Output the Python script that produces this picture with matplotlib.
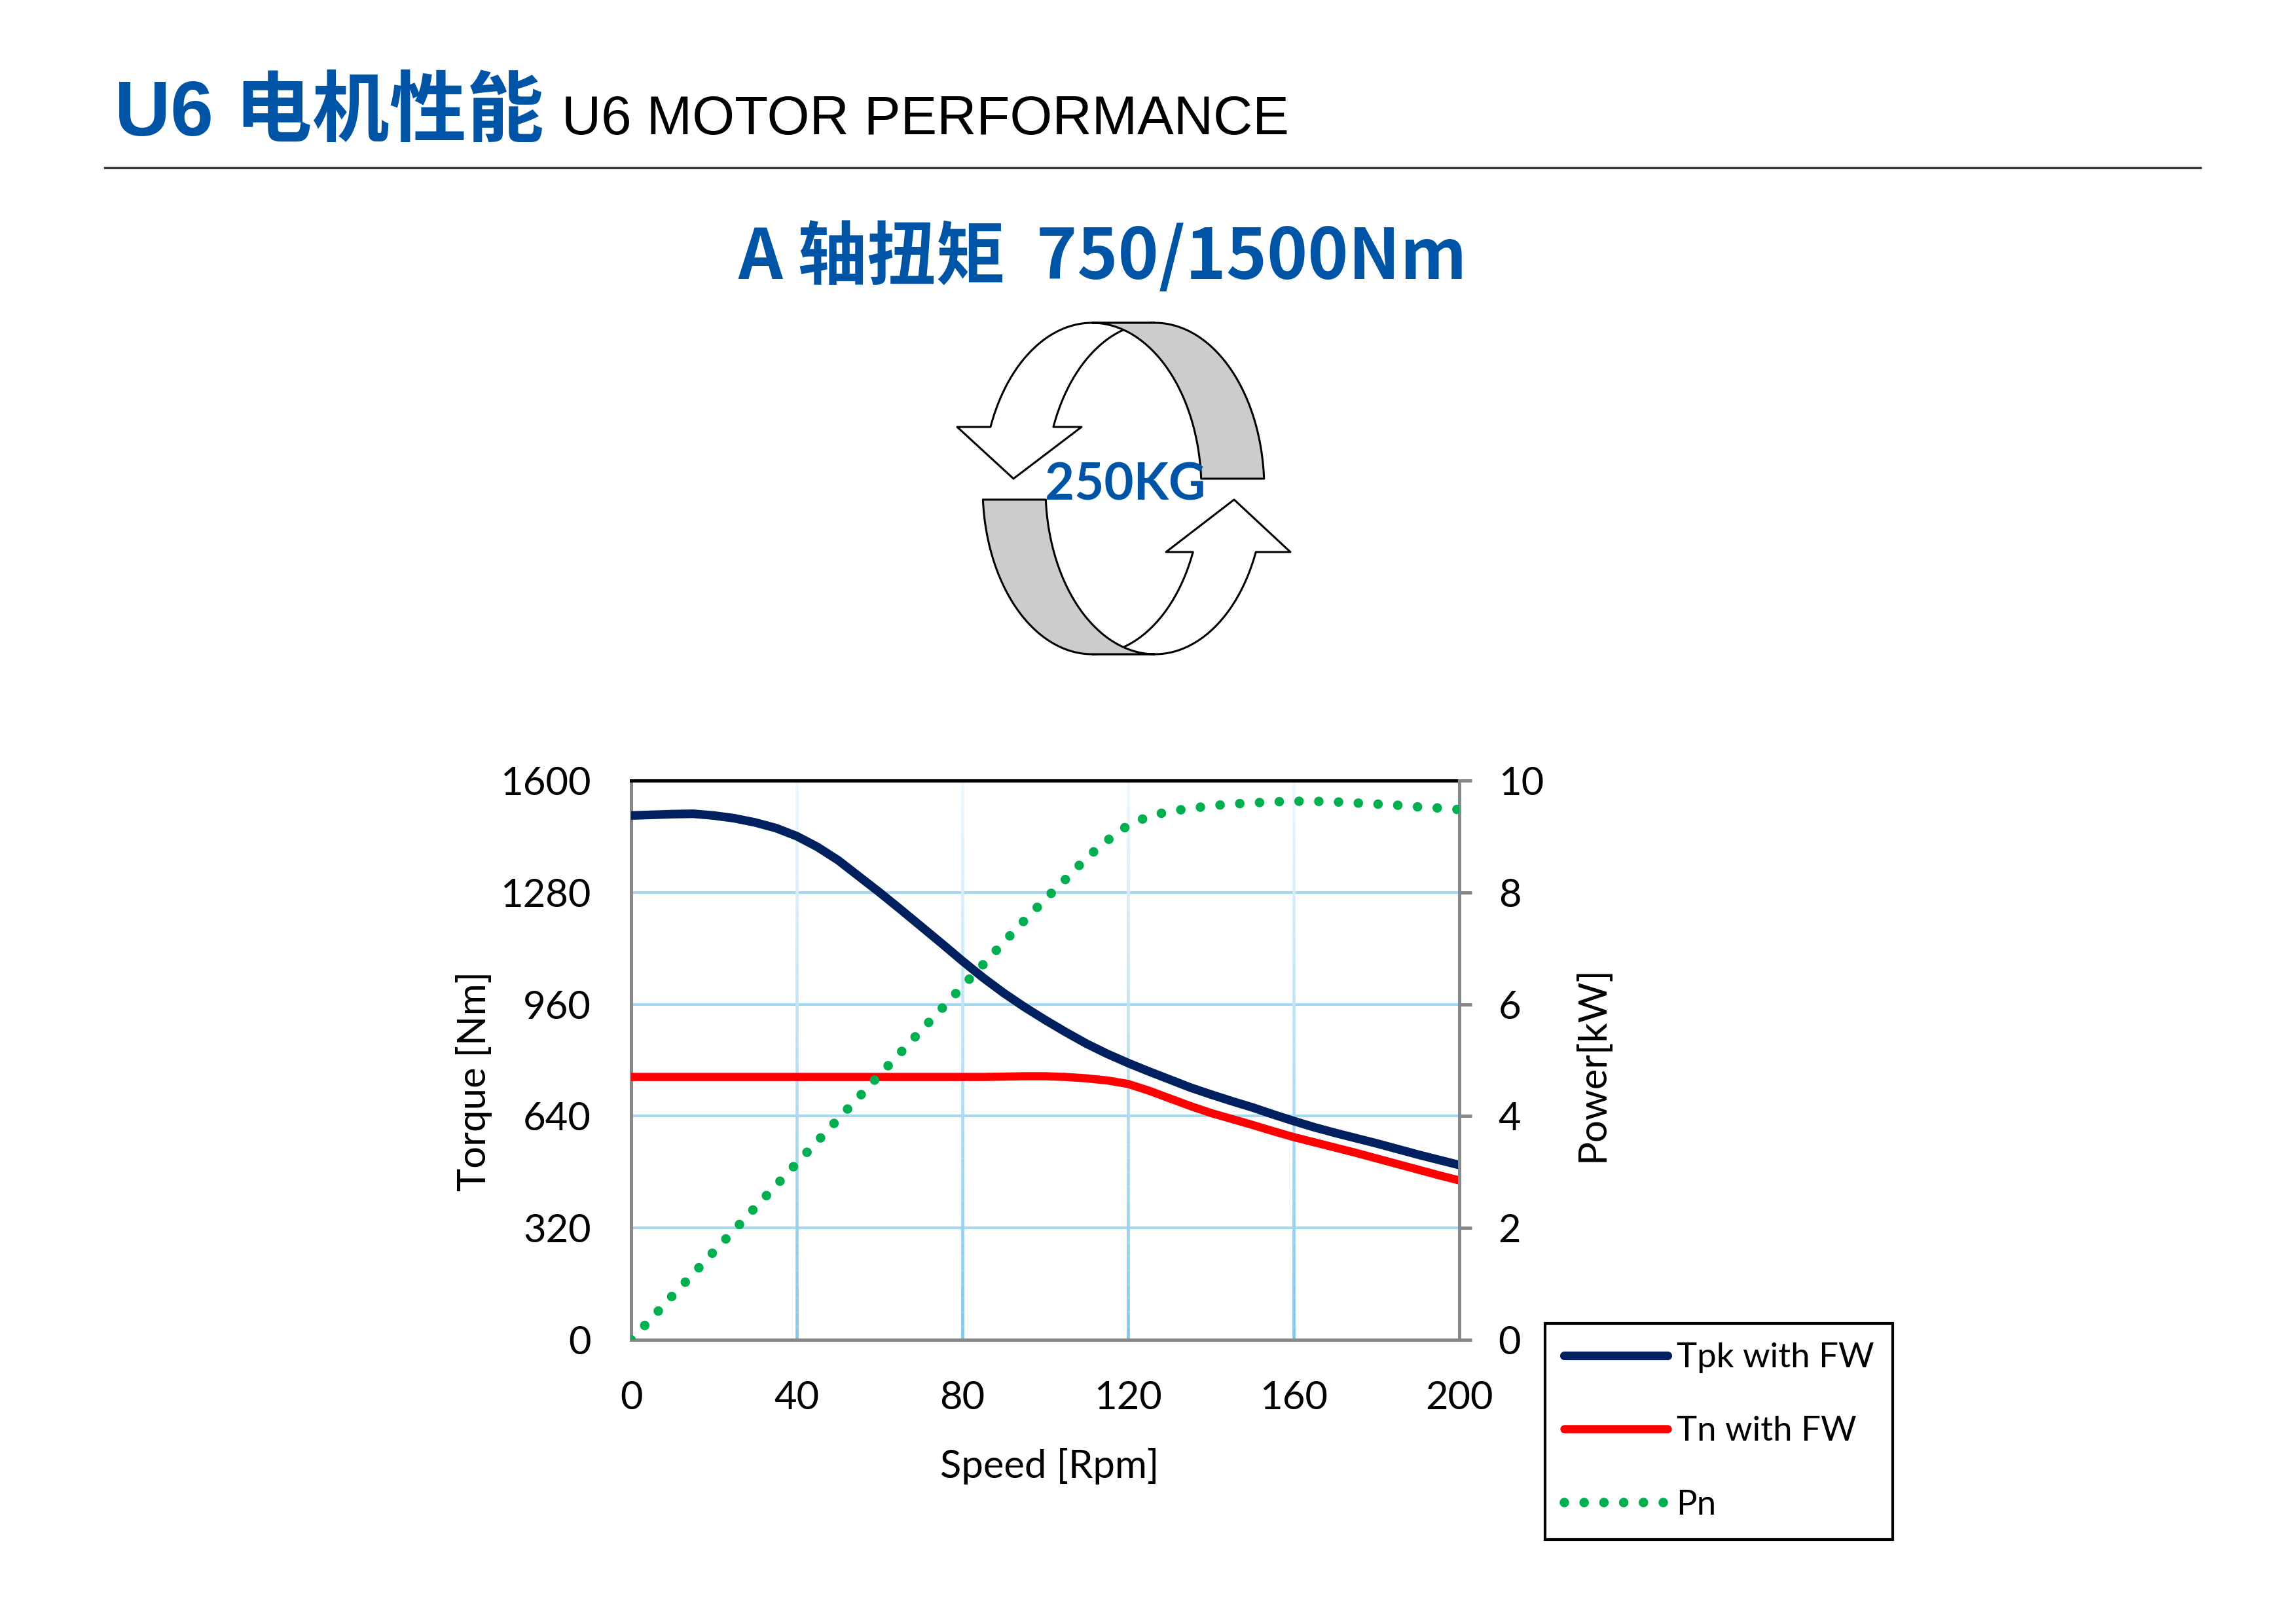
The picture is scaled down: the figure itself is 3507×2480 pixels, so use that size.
import matplotlib
matplotlib.use("Agg")
import matplotlib.pyplot as plt
import numpy as np
from matplotlib.patches import Polygon
from matplotlib.collections import LineCollection
from matplotlib.colors import to_rgb

# ---- data ----
speed = [0, 5, 10, 15, 20, 25, 30, 35, 40, 45, 50, 55, 60, 65, 70, 75, 80, 85, 90, 95,
         100, 105, 110, 115, 120, 125, 130, 135, 140, 145, 150, 155, 160, 165, 170, 175,
         180, 185, 190, 195, 200]
tpk = [1500, 1502, 1504, 1505, 1500, 1492, 1480, 1464, 1441, 1410, 1372, 1326, 1280, 1232,
       1183, 1134, 1084, 1036, 992, 952, 915, 880, 847, 818, 792, 768, 745, 722, 702, 683,
       665, 645, 626, 608, 592, 577, 562, 546, 530, 515, 500]
tn = [752, 752, 752, 752, 752, 752, 752, 752, 752, 752, 752, 752, 752, 752, 752, 752, 752,
      752, 753, 754, 754, 752, 748, 742, 732, 713, 691, 669, 649, 632, 615, 597, 580, 565,
      550, 535, 519, 503, 487, 471, 456]
pn = [0, 0.39, 0.79, 1.18, 1.58, 1.97, 2.37, 2.76, 3.16, 3.55, 3.95, 4.34, 4.74, 5.13, 5.53,
      5.92, 6.32, 6.71, 7.11, 7.50, 7.88, 8.24, 8.62, 8.93, 9.20, 9.36, 9.45, 9.50, 9.55,
      9.58, 9.60, 9.62, 9.63, 9.63, 9.62, 9.60, 9.58, 9.56, 9.53, 9.51, 9.48]

speed_ticks = [0, 40, 80, 120, 160, 200]
torque_ticks = [0, 320, 640, 960, 1280, 1600]
power_ticks = [0, 2, 4, 6, 8, 10]
series_labels = ["Tpk with FW", "Tn with FW", "Pn"]

BLUE = "#0054A6"
NAVY = "#002060"
RED = "#FF0000"
GREEN = "#00B050"
GRID = "#a6d7f1"
AXGREY = "#878787"

W, H, DPI = 3507, 2480, 100
plt.rcParams["font.family"] = ["Lato", "DejaVu Sans"]

fig = plt.figure(figsize=(W / DPI, H / DPI), dpi=DPI)

# overlay in pixel units for the header and the rotation icon
deco = fig.add_axes([0, 0, 1, 1], zorder=0)
deco.set_xlim(0, W)
deco.set_ylim(H, 0)
deco.axis("off")

deco.text(175, 207, "U6 电机性能", fontsize=85, fontweight="bold", color=BLUE,
          family=["Liberation Sans", "Noto Sans CJK SC"], ha="left", va="baseline")
deco.text(858, 205, "U6 MOTOR PERFORMANCE", fontsize=60, color="black",
          family=["Liberation Sans"], ha="left", va="baseline")
deco.plot([160, 3361], [256, 256], color="#3a3a3a", lw=2.4)
deco.text(1684, 426, "A 轴扭矩  750/1500Nm", fontsize=76, fontweight="bold", color=BLUE,
          family=["Noto Sans CJK SC"], ha="center", va="baseline")

# icon: two ellipses (front / back rim of a band)
CY, B, A = 746, 253, 167
LCX, RCX = 1668, 1764


def ell(cx, t0, t1, n=80):
    t = np.radians(np.linspace(t0, t1, n))
    return np.column_stack([cx + A * np.cos(t), CY - B * np.sin(t)])


def ang(y, side):
    s = np.degrees(np.arcsin((CY - y) / B))
    return s if side > 0 else 180 - s


icon_kw = dict(edgecolor="black", lw=2.2, joinstyle="round", zorder=2)
# upper-left white arrow
up = np.vstack([[[1462, 652]], ell(LCX, ang(652, -1), 90), ell(RCX, 90, ang(652, -1)),
                [[1652, 652], [1548, 731]]])
deco.add_patch(Polygon(up, closed=True, facecolor="white", **icon_kw))
# lower-right white arrow
lo = np.vstack([ell(RCX, ang(843, 1), -90), ell(LCX, -90, ang(843, 1)),
                [[1781, 843], [1885, 763], [1971, 843]]])
deco.add_patch(Polygon(lo, closed=True, facecolor="white", **icon_kw))
# grey inner bands
g1 = np.vstack([ell(LCX, 90, ang(731, 1)), ell(RCX, ang(731, 1), 90)])
deco.add_patch(Polygon(g1, closed=True, facecolor="#cccccc", **icon_kw))
g2 = np.vstack([ell(LCX, ang(763, -1), 270), ell(RCX, 270, ang(763, -1))])
deco.add_patch(Polygon(g2, closed=True, facecolor="#cccccc", **icon_kw))
deco.text(1719, 763, "250KG", fontsize=56, fontweight="bold", color=BLUE,
          ha="center", va="baseline", zorder=3)

# ---- chart ----
ax = fig.add_axes([964 / W, 1 - 2046 / H, (2229 - 964) / W, (2046 - 1192) / H], zorder=2)
ax.set_xlim(0, 200)
ax.set_ylim(0, 1600)
ax.set_xticks(speed_ticks)
ax.set_yticks(torque_ticks)

ax.yaxis.grid(True, color=GRID, lw=3.0, zorder=1)
# vertical grid fades towards the top
bot, top = np.array(to_rgb("#84c7ea")), np.array(to_rgb("#eef8fd"))
segs, cols = [], []
ys = np.linspace(0, 1600, 41)
for xv in speed_ticks[1:-1]:
    for i in range(len(ys) - 1):
        segs.append([(xv, ys[i]), (xv, ys[i + 1])])
        f = (ys[i] + ys[i + 1]) / 2 / 1600
        cols.append(bot * (1 - f) + top * f)
ax.add_collection(LineCollection(segs, colors=cols, lw=3.4, zorder=1, capstyle="butt"))
ax.set_axisbelow(True)

l1, = ax.plot(speed, tpk, color=NAVY, lw=9.5, solid_capstyle="round", zorder=3)
l2, = ax.plot(speed, tn, color=RED, lw=9, solid_capstyle="round", zorder=3)

for s in ["left", "bottom"]:
    ax.spines[s].set_color(AXGREY)
    ax.spines[s].set_linewidth(3.6)
ax.spines["top"].set_color("black")
ax.spines["top"].set_linewidth(3.6)
ax.spines["right"].set_visible(False)
ax.tick_params(axis="y", length=0, labelsize=43, pad=44)
ax.tick_params(axis="x", length=0, labelsize=43, pad=45)

ax2 = ax.twinx()
ax2.set_ylim(0, 10)
ax2.set_yticks(power_ticks)
for s in ["left", "top", "bottom"]:
    ax2.spines[s].set_visible(False)
ax2.spines["right"].set_color(AXGREY)
ax2.spines["right"].set_linewidth(3.6)
ax2.tick_params(axis="y", length=14, width=3.6, color=AXGREY, direction="out",
                labelsize=43, pad=29)
l3, = ax2.plot(speed, pn, color=GREEN, lw=10.5, linestyle=(0, (0.001, 2.07)),
               dash_capstyle="round", zorder=4)

ax.set_xlabel("Speed [Rpm]", fontsize=43, va="center")
ax.xaxis.set_label_coords(1603 / W, 1 - 2239 / H, transform=fig.transFigure)
ax.set_ylabel("Torque [Nm]", fontsize=43, va="center")
ax.yaxis.set_label_coords(724 / W, 1 - 1651 / H, transform=fig.transFigure)
ax2.set_ylabel("Power[kW]", fontsize=43, va="center")
ax2.yaxis.set_label_coords(2432 / W, 1 - 1625 / H, transform=fig.transFigure)

leg = fig.legend([l1, l2, l3], series_labels, loc="upper left",
                 bbox_to_anchor=(2360 / W, 1 - 2021 / H), bbox_transform=fig.transFigure,
                 frameon=True, fancybox=False, edgecolor="black", framealpha=1,
                 borderaxespad=0, fontsize=38, handlelength=3.0, handletextpad=0.25,
                 borderpad=0.55, labelspacing=1.24)
leg.get_frame().set_linewidth(3.0)

fig.savefig("out.png", dpi=DPI, facecolor="white")
